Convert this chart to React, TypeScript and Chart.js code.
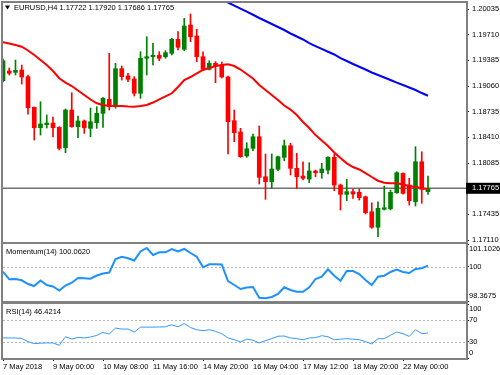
import React, { useEffect, useRef } from "react";
import { Chart, registerables } from "chart.js";

Chart.register(...registerables);

const FONT = "'Liberation Sans', Arial, sans-serif";
const FONT_SIZE = 7.5;
const TEXT = "#000000";
const FRAME = "#808080";
const BULL = "#008000";
const BEAR = "#ff0000";

const symbolName = "EURUSD,H4";

// H4 candles, oldest first
const opens = [
  1.19127, 1.1925, 1.19233, 1.19263, 1.19178, 1.1879, 1.18532, 1.1857, 1.18591, 1.18537,
  1.18279, 1.18756, 1.18545, 1.18617, 1.18524, 1.18595, 1.18714, 1.18892, 1.18798, 1.19279,
  1.19187, 1.19149, 1.18968, 1.19411, 1.19431, 1.19449, 1.19431, 1.19474, 1.19651, 1.19525,
  1.19832, 1.19693, 1.19431, 1.19271, 1.19347, 1.19326, 1.19174, 1.18621, 1.18478, 1.18174,
  1.18271, 1.18418, 1.17911, 1.17848, 1.18005, 1.18157, 1.18304, 1.18018, 1.1792, 1.17882,
  1.17984, 1.17962, 1.17996, 1.18157, 1.17806, 1.17689, 1.17722, 1.17714, 1.17658, 1.17468,
  1.17271, 1.17499, 1.17506, 1.17709, 1.17954, 1.17806, 1.17595, 1.18101, 1.17722,
];
const highs = [
  1.19402, 1.19288, 1.19389, 1.19326, 1.19199, 1.18794, 1.18861, 1.18693, 1.18667, 1.18545,
  1.18769, 1.18975, 1.1868, 1.18629, 1.18781, 1.18798, 1.18917, 1.19474, 1.19347, 1.19313,
  1.19221, 1.19178, 1.19494, 1.19684, 1.19601, 1.19494, 1.19507, 1.19664, 1.19748, 1.19917,
  1.19972, 1.19778, 1.19494, 1.1938, 1.19368, 1.19364, 1.19187, 1.18756, 1.18524, 1.18342,
  1.18452, 1.18553, 1.18199, 1.18199, 1.18174, 1.18376, 1.18334, 1.18208, 1.18101, 1.18089,
  1.17996, 1.18081, 1.18165, 1.18199, 1.17819, 1.17878, 1.17752, 1.17752, 1.17667, 1.17582,
  1.17595, 1.17794, 1.17743, 1.17975, 1.17962, 1.17891, 1.18291, 1.18228, 1.1792,
];
const lows = [
  1.19111, 1.19199, 1.19199, 1.19085, 1.18705, 1.18376, 1.18439, 1.18528, 1.18414, 1.1825,
  1.18215, 1.18537, 1.18405, 1.18461, 1.18418, 1.18524, 1.18537, 1.18756, 1.18778, 1.19136,
  1.19114, 1.18933, 1.18904, 1.19199, 1.19326, 1.1938, 1.19411, 1.19453, 1.19516, 1.19507,
  1.19621, 1.19368, 1.19254, 1.19263, 1.19102, 1.19161, 1.18199, 1.18355, 1.18157, 1.18157,
  1.18241, 1.17819, 1.17625, 1.17765, 1.17987, 1.18114, 1.17933, 1.17765, 1.1787, 1.17835,
  1.17911, 1.17891, 1.17946, 1.17734, 1.1749, 1.17608, 1.17638, 1.17616, 1.17439, 1.17258,
  1.17152, 1.1749, 1.1749, 1.17701, 1.17689, 1.17553, 1.1754, 1.17575, 1.17686,
];
const closes = [
  1.1938, 1.19221, 1.19259, 1.19174, 1.18785, 1.18532, 1.18579, 1.18591, 1.18532, 1.18271,
  1.18756, 1.18545, 1.18617, 1.18532, 1.18608, 1.18714, 1.18904, 1.18798, 1.19279, 1.19178,
  1.19145, 1.18968, 1.19411, 1.19431, 1.19449, 1.19411, 1.19482, 1.19651, 1.1955, 1.1982,
  1.19684, 1.19431, 1.19271, 1.19347, 1.19313, 1.19174, 1.18608, 1.18469, 1.18165, 1.18266,
  1.18418, 1.17904, 1.17848, 1.18009, 1.18165, 1.18304, 1.18018, 1.17911, 1.17891, 1.17984,
  1.17962, 1.18009, 1.18157, 1.17806, 1.17689, 1.17722, 1.17692, 1.17646, 1.17456, 1.17271,
  1.17511, 1.17519, 1.17714, 1.17962, 1.17701, 1.17608, 1.18101, 1.17752, 1.17765,
];

// fast moving average (red), one value per candle
const maFast = [
  1.19613, 1.19598, 1.19579, 1.19558, 1.1951, 1.19453, 1.19389, 1.19326, 1.1925, 1.19158,
  1.19104, 1.1906, 1.19003, 1.18946, 1.18889, 1.18841, 1.18819, 1.18807, 1.18807, 1.18807,
  1.188, 1.18798, 1.18807, 1.18819, 1.18851, 1.18892, 1.1893, 1.18968, 1.19047, 1.19136,
  1.19174, 1.19221, 1.19263, 1.19288, 1.19313, 1.19326, 1.19335, 1.19313, 1.19269, 1.19212,
  1.19155, 1.19073, 1.19009, 1.18946, 1.18883, 1.18813, 1.18762, 1.18693, 1.18604, 1.18528,
  1.18439, 1.1837, 1.183, 1.18218, 1.18148, 1.18081, 1.18034, 1.18003, 1.17958, 1.17908,
  1.17861, 1.17835, 1.17829, 1.17828, 1.17813, 1.17794, 1.17781, 1.17765, 1.17752,
];

// slow moving average (blue), only the part that enters the window
const maSlowFirstBar = 35;
const maSlow = [
  1.20155, 1.20117, 1.20079, 1.2004, 1.20001, 1.19962, 1.19921, 1.19883, 1.19845, 1.19807,
  1.19769, 1.19725, 1.19687, 1.19649, 1.19604, 1.19566, 1.19529, 1.19494, 1.19459, 1.19414,
  1.19377, 1.19339, 1.19304, 1.19269, 1.19231, 1.19199, 1.19168, 1.19136, 1.19102, 1.19073,
  1.19041, 1.19009, 1.18971, 1.18937,
];

const momentum = [
  99.773, 99.409, 99.423, 99.361, 99.183, 99.087, 99.351, 99.135, 99.063, 98.871,
  99.111, 99.246, 99.471, 99.457, 99.438, 99.591, 99.687, 99.735, 100.383, 100.493,
  100.416, 100.311, 100.743, 100.911, 100.575, 100.704, 100.704, 100.863, 100.743, 100.863,
  100.671, 100.493, 99.985, 100.128, 100.128, 100.119, 99.327, 99.135, 98.943, 99.015,
  99.039, 98.526, 98.497, 98.559, 98.703, 99.025, 98.895, 98.814, 98.814, 99.025,
  99.423, 99.534, 99.889, 99.581, 99.342, 99.807, 99.807, 99.663, 99.375, 99.135,
  99.534, 99.581, 99.759, 99.879, 99.759, 99.711, 99.903, 99.937, 100.062,
];

const rsi = [
  37.1, 37.1, 37.1, 36.3, 30.3, 26.6, 27.5, 27.9, 27.9, 23.5,
  39.4, 35.2, 38.2, 37.1, 38.9, 41.8, 47.3, 44.4, 55.4, 53.6,
  53.6, 48.1, 57.2, 57.2, 57.2, 57.4, 57.8, 61.5, 57.8, 63.9,
  56.5, 52.3, 50.5, 52.3, 49.5, 45.0, 37.1, 33.9, 29.7, 34.9,
  33.0, 27.9, 32.1, 35.8, 40.4, 40.7, 37.1, 35.8, 33.9, 37.1,
  37.6, 41.3, 39.4, 33.9, 34.9, 35.8, 34.9, 33.9, 30.3, 26.1,
  35.8, 35.8, 42.2, 48.1, 45.0, 40.0, 52.3, 45.0, 46.4214,
];

const priceTicks = [1.20035, 1.1971, 1.19385, 1.1906, 1.18735, 1.1841, 1.18085, 1.17435, 1.1711];
const priceMin = 1.17085;
const priceMax = 1.20111;

const momentumMin = 98.3675;
const momentumMax = 101.1026;
const momentumTicks = [101.1026, 100, 98.3675];
const momentumLevels = [100];

const rsiMin = 0;
const rsiMax = 100;
const rsiTicks = [100, 70, 30, 0];
const rsiLevels = [70, 30];

const timeLabels = [
  "7 May 2018", "9 May 00:00", "10 May 08:00", "11 May 16:00", "14 May 20:00",
  "16 May 04:00", "17 May 12:00", "18 May 20:00", "22 May 00:00",
];
const timeLabelBars = [0, 8, 16, 24, 32, 40, 48, 56, 64];

const visibleBars = 74.08;
const AXIS_W = 34;

const fontSpec = `${FONT_SIZE}px ${FONT}`;

const framePlugin = {
  id: "panelFrame",
  afterDraw(chart: any) {
    const { ctx, chartArea } = chart;
    const { left, top, right, bottom } = chartArea;
    ctx.save();
    ctx.strokeStyle = FRAME;
    ctx.lineWidth = 2;
    ctx.strokeRect(left - 1, top - 1, right - left + 2, bottom - top + 2);
    ctx.restore();
  },
};

function levelPlugin(levels: number[]) {
  return {
    id: "levels",
    beforeDatasetsDraw(chart: any) {
      const { ctx, chartArea, scales } = chart;
      ctx.save();
      ctx.strokeStyle = "#b8b8b8";
      ctx.lineWidth = 1;
      ctx.setLineDash([2, 2]);
      levels.forEach((v) => {
        const y = Math.round(scales.y.getPixelForValue(v)) + 0.5;
        ctx.beginPath();
        ctx.moveTo(chartArea.left, y);
        ctx.lineTo(chartArea.right, y);
        ctx.stroke();
      });
      ctx.restore();
    },
  };
}

function sideLabelPlugin(values: number[]) {
  return {
    id: "sideLabels",
    afterDraw(chart: any) {
      const { ctx, chartArea, scales } = chart;
      ctx.save();
      ctx.font = fontSpec;
      ctx.fillStyle = TEXT;
      ctx.textBaseline = "middle";
      ctx.textAlign = "left";
      values.forEach((v) => {
        let y = scales.y.getPixelForValue(v);
        y = Math.min(Math.max(y, chartArea.top + 5), chartArea.bottom - 5);
        ctx.fillText(String(v), chartArea.right + 3, y);
      });
      ctx.restore();
    },
  };
}

function titlePlugin(getText: () => string) {
  return {
    id: "panelTitle",
    afterDraw(chart: any) {
      const { ctx, chartArea } = chart;
      ctx.save();
      ctx.font = fontSpec;
      ctx.fillStyle = TEXT;
      ctx.textBaseline = "middle";
      ctx.textAlign = "left";
      ctx.fillText(getText(), chartArea.left + 3, chartArea.top + 7.5);
      ctx.restore();
    },
  };
}

const mainOverlayPlugin = {
  id: "mainOverlay",
  beforeDatasetsDraw(chart: any) {
    const { ctx, chartArea, scales } = chart;
    const last = closes[closes.length - 1];
    const y = scales.y.getPixelForValue(last);
    ctx.save();
    ctx.strokeStyle = "#707070";
    ctx.lineWidth = 1.5;
    ctx.beginPath();
    ctx.moveTo(chartArea.left, y);
    ctx.lineTo(chartArea.right, y);
    ctx.stroke();
    ctx.restore();
  },
  afterDraw(chart: any) {
    const { ctx, chartArea, scales, width } = chart;
    const n = closes.length;
    const last = closes[n - 1];
    const y = scales.y.getPixelForValue(last);
    ctx.save();
    // current price box
    ctx.fillStyle = "#000";
    ctx.fillRect(chartArea.right, y - 5.5, width - chartArea.right, 11);
    ctx.font = fontSpec;
    ctx.fillStyle = "#fff";
    ctx.textBaseline = "middle";
    ctx.textAlign = "left";
    ctx.fillText(last.toFixed(5), chartArea.right + 6, y);
    // title
    const tx = chartArea.left;
    const ty = chartArea.top;
    ctx.fillStyle = "#000";
    ctx.beginPath();
    ctx.moveTo(tx + 2, ty + 2.5);
    ctx.lineTo(tx + 7, ty + 2.5);
    ctx.lineTo(tx + 4.5, ty + 6.5);
    ctx.closePath();
    ctx.fill();
    const title = `${symbolName} ${opens[n - 1].toFixed(5)} ${highs[n - 1].toFixed(5)} ${lows[n - 1].toFixed(5)} ${last.toFixed(5)}`;
    ctx.fillText(title, tx + 11, ty + 5);
    ctx.restore();
  },
};

function hiddenX() {
  return { type: "linear", min: 0, max: visibleBars, display: false, offset: false };
}

function rightAxis(min: number, max: number, ticks: number[], showLabels: boolean, fmt?: (v: number) => string) {
  return {
    type: "linear",
    position: "right",
    min,
    max,
    afterFit: (s: any) => {
      s.width = AXIS_W;
      s.paddingTop = 0;
      s.paddingBottom = 0;
    },
    afterBuildTicks: (s: any) => {
      s.ticks = ticks.map((v) => ({ value: v }));
    },
    ticks: {
      display: showLabels,
      padding: 3,
      color: TEXT,
      font: { family: FONT, size: FONT_SIZE },
      callback: (v: any) => (fmt ? fmt(Number(v)) : String(v)),
    },
    grid: { drawOnChartArea: false, drawTicks: true, tickLength: 3, tickColor: "#000", color: "#000" },
    border: { display: false },
  };
}

export default function App() {
  const mainRef = useRef<HTMLCanvasElement>(null);
  const momRef = useRef<HTMLCanvasElement>(null);
  const rsiRef = useRef<HTMLCanvasElement>(null);

  useEffect(() => {
    const bodyColors = closes.map((c, i) => (c >= opens[i] ? BULL : BEAR));
    const wickColors = closes.map((c, i) => (c >= opens[i] ? BULL : BEAR));

    const main = new Chart(mainRef.current as HTMLCanvasElement, {
      type: "bar",
      data: {
        datasets: [
          {
            type: "line",
            label: "MA slow",
            data: maSlow.map((v, i) => ({ x: i + maSlowFirstBar, y: v })),
            borderColor: "#0000ff",
            borderWidth: 2,
            pointRadius: 0,
            tension: 0,
            order: 0,
          } as any,
          {
            type: "line",
            label: "MA fast",
            data: maFast.map((v, i) => ({ x: i, y: v })),
            borderColor: "#ff0000",
            borderWidth: 2,
            pointRadius: 0,
            tension: 0,
            order: 0,
          } as any,
          {
            type: "bar",
            label: "bodies",
            data: opens.map((o, i) => ({ x: i, y: [o, closes[i]] })),
            backgroundColor: bodyColors,
            borderWidth: 0,
            barThickness: 4,
            minBarLength: 1,
            grouped: false,
            order: 1,
          } as any,
          {
            type: "bar",
            label: "wicks",
            data: lows.map((l, i) => ({ x: i, y: [l, highs[i]] })),
            backgroundColor: wickColors,
            borderWidth: 0,
            barThickness: 1,
            grouped: false,
            order: 2,
          } as any,
        ],
      },
      options: {
        animation: false,
        responsive: false,
        events: [],
        layout: { padding: { left: 3, top: 3, right: 0, bottom: 3 } },
        plugins: { legend: { display: false }, tooltip: { enabled: false } },
        scales: {
          x: hiddenX() as any,
          y: rightAxis(priceMin, priceMax, priceTicks, true, (v) => v.toFixed(5)) as any,
        },
      },
      plugins: [framePlugin, mainOverlayPlugin],
    });

    const mom = new Chart(momRef.current as HTMLCanvasElement, {
      type: "line",
      data: {
        datasets: [
          {
            label: "Momentum(14)",
            data: momentum.map((v, i) => ({ x: i, y: v })),
            borderColor: "#1e90ff",
            borderWidth: 2,
            pointRadius: 0,
            tension: 0,
          },
        ],
      },
      options: {
        animation: false,
        responsive: false,
        events: [],
        layout: { padding: { left: 3, top: 2, right: 0, bottom: 2 } },
        plugins: { legend: { display: false }, tooltip: { enabled: false } },
        scales: {
          x: hiddenX() as any,
          y: rightAxis(momentumMin, momentumMax, momentumTicks, false) as any,
        },
      },
      plugins: [
        levelPlugin(momentumLevels),
        framePlugin,
        sideLabelPlugin(momentumTicks),
        titlePlugin(() => `Momentum(14) ${momentum[momentum.length - 1].toFixed(4)}`),
      ],
    });

    const rsiChart = new Chart(rsiRef.current as HTMLCanvasElement, {
      type: "line",
      data: {
        datasets: [
          {
            label: "RSI(14)",
            data: rsi.map((v, i) => ({ x: i, y: v })),
            borderColor: "#3399ff",
            borderWidth: 1,
            pointRadius: 0,
            tension: 0,
          },
        ],
      },
      options: {
        animation: false,
        responsive: false,
        events: [],
        layout: { padding: { left: 3, top: 2, right: 0, bottom: 0 } },
        plugins: { legend: { display: false }, tooltip: { enabled: false } },
        scales: {
          x: {
            type: "linear",
            min: 0,
            max: visibleBars,
            offset: false,
            position: "bottom",
            afterFit: (s: any) => {
              s.height = 17;
              s.paddingLeft = 0;
              s.paddingRight = 0;
            },
            afterBuildTicks: (s: any) => {
              s.ticks = timeLabelBars.map((v) => ({ value: v }));
            },
            ticks: {
              align: "start",
              autoSkip: false,
              maxRotation: 0,
              minRotation: 0,
              padding: 1,
              color: TEXT,
              font: { family: FONT, size: FONT_SIZE },
              callback: (_v: any, idx: number) => timeLabels[idx],
            },
            grid: { drawOnChartArea: false, drawTicks: true, tickLength: 3, tickColor: "#000" },
            border: { display: false },
          } as any,
          y: rightAxis(rsiMin, rsiMax, rsiTicks, false) as any,
        },
      },
      plugins: [
        levelPlugin(rsiLevels),
        framePlugin,
        sideLabelPlugin(rsiTicks),
        titlePlugin(() => `RSI(14) ${rsi[rsi.length - 1].toFixed(4)}`),
      ],
    });

    return () => {
      main.destroy();
      mom.destroy();
      rsiChart.destroy();
    };
  }, []);

  return (
    <div style={{ position: "fixed", left: 0, top: 0, width: 500, height: 375, background: "#fff", overflow: "hidden" }}>
      <canvas ref={mainRef} width={500} height={245} style={{ position: "absolute", left: 0, top: 0 }} />
      <canvas ref={momRef} width={500} height={61} style={{ position: "absolute", left: 0, top: 242 }} />
      <canvas ref={rsiRef} width={500} height={73} style={{ position: "absolute", left: 0, top: 302 }} />
    </div>
  );
}
